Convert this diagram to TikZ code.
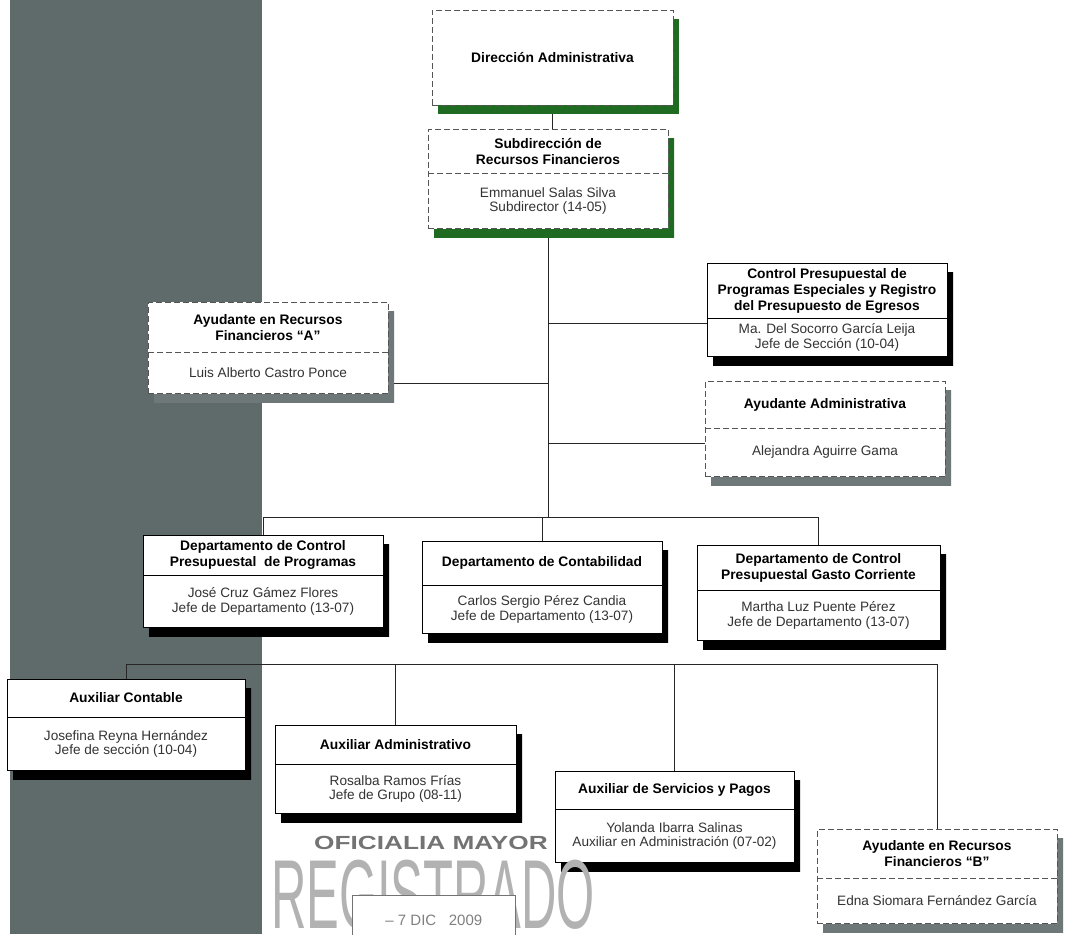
\documentclass[tikz,border=0pt]{standalone}
\usepackage{fontspec}
\setmainfont{Liberation Sans}
\usetikzlibrary{shapes.multipart,shadows}
\definecolor{band}{HTML}{5F6B6B}
\definecolor{grn}{HTML}{1F6B22}
\definecolor{shgray}{HTML}{6E7878}
\definecolor{dashc}{HTML}{555555}
\definecolor{txtc}{HTML}{333333}
\pgfdeclarelayer{bg}
\pgfsetlayers{bg,main}
\newcommand{\tp}[3]{\parbox[c][#2pt][c]{#1pt}{\centering\bfseries\fontsize{13.8}{16}\selectfont #3}}
\newcommand{\bp}[3]{\parbox[c][#2pt][c]{#1pt}{\centering\color{txtc}\fontsize{13.6}{14.5}\selectfont #3}}
\tikzset{
  x=1pt, y=-1pt,
  solidsplit/.style={rectangle split, rectangle split parts=2, draw=black, line width=0.9pt,
    fill=white, inner sep=0pt,
    drop shadow={shadow xshift=6pt, shadow yshift=-9pt, fill=black, opacity=1}},
  dashsplit/.style={rectangle split, rectangle split parts=2, draw=dashc, line width=0.8pt,
    dash pattern=on 6pt off 3pt, fill=white, inner sep=0pt,
    drop shadow={shadow xshift=6pt, shadow yshift=-9pt, fill=#1, opacity=1}},
  dashsplit/.default=shgray,
  conn/.style={draw=black!85, line width=0.9pt},
}
\begin{document}
\begin{tikzpicture}
\useasboundingbox (0,0) rectangle (1065,934);
\begin{pgfonlayer}{bg}
  \fill[white] (0,0) rectangle (1065,934);
  \fill[band] (10,0) rectangle (262,934);
\end{pgfonlayer}

% top boxes
\node[rectangle, draw=dashc, line width=0.8pt, dash pattern=on 6pt off 3pt, fill=white,
  minimum width=241pt, minimum height=95pt, inner sep=0pt,
  drop shadow={shadow xshift=6pt, shadow yshift=-9pt, fill=grn, opacity=1},
  font=\bfseries\fontsize{13.8}{16}\selectfont] (dir) at (552.5,57.5) {Dirección Administrativa};

\node[dashsplit=grn] (sub) at (548,179)
  {\tp{240}{43}{Subdirección de\\Recursos Financieros}\nodepart{two}\bp{240}{55}{Emmanuel Salas Silva\\Subdirector (14-05)}};

\node[dashsplit] (ayA) at (268,348)
  {\tp{240}{49}{Ayudante en Recursos\\Financieros “A”}\nodepart{two}\bp{240}{41}{Luis Alberto Castro Ponce}};

\node[solidsplit] (cpe) at (827,310)
  {\tp{240}{54}{Control Presupuestal de\\Programas Especiales y Registro\\del Presupuesto de Egresos}\nodepart{two}\bp{240}{38}{Ma. Del Socorro García Leija\\Jefe de Sección (10-04)}};

\node[dashsplit] (adm) at (825,429)
  {\tp{240}{46}{Ayudante Administrativa}\nodepart{two}\bp{240}{48}{Alejandra Aguirre Gama}};

% departments
\node[solidsplit] (dcp) at (263,581.5)
  {\tp{240}{39}{Departamento de Control\\Presupuestal\ \ de Programas}\nodepart{two}\bp{240}{52}{José Cruz Gámez Flores\\Jefe de Departamento (13-07)}};

\node[solidsplit] (dco) at (542,587.5)
  {\tp{240}{43}{Departamento de Contabilidad}\nodepart{two}\bp{240}{48}{Carlos Sergio Pérez Candia\\Jefe de Departamento (13-07)}};

\node[solidsplit] (dgc) at (818.5,593)
  {\tp{243}{44}{Departamento de Control\\Presupuestal Gasto Corriente}\nodepart{two}\bp{243}{50}{Martha Luz Puente Pérez\\Jefe de Departamento (13-07)}};

% lower boxes
\node[solidsplit] (auxc) at (126,725)
  {\tp{238}{37}{Auxiliar Contable}\nodepart{two}\bp{238}{53}{Josefina Reyna Hernández\\Jefe de sección (10-04)}};

\node[solidsplit] (auxa) at (395.5,769.5)
  {\tp{241}{38}{Auxiliar Administrativo}\nodepart{two}\bp{241}{49}{Rosalba Ramos Frías\\Jefe de Grupo (08-11)}};

\node[solidsplit] (auxs) at (674.5,817)
  {\tp{239}{37}{Auxiliar de Servicios y Pagos}\nodepart{two}\bp{239}{53}{Yolanda Ibarra Salinas\\Auxiliar en Administración (07-02)}};

\node[dashsplit] (ayB) at (937,876.5)
  {\tp{240}{48}{Ayudante en Recursos\\Financieros “B”}\nodepart{two}\bp{240}{45}{Edna Siomara Fernández García}};

% stamp
\begin{scope}
  \clip (0,0) rectangle (1065,934);
  \node[text=black!30, inner sep=0pt, anchor=base, text height=70pt, text depth=0pt] (st2) at (433,928)
    {\scalebox{0.5}[1]{\fontsize{98}{98}\selectfont REGISTRADO}};
  \node[text=black!55, inner sep=0pt] (st1) at (431,843)
    {\scalebox{1.38}[1]{\bfseries\fontsize{19}{19}\selectfont OFICIALIA MAYOR}};
  \node[draw=black!55, line width=0.7pt, fill=white, minimum width=163pt, minimum height=50pt,
    inner sep=0pt, anchor=north west, text=black!50] (st3) at (352,895)
    {\raisebox{-6pt}{\fontsize{15}{15}\selectfont -- 7 DIC\ \ \ 2009}};
\end{scope}

% connectors
\begin{pgfonlayer}{bg}
  \draw[conn] (dir.south) -- (dir.south |- sub.north);
  \coordinate (b1L) at (263,517);
  \coordinate (b1R) at (818.5,517);
  \draw[conn] (sub.south) -- (sub.south |- b1L);
  \coordinate (cpeIn) at ([yshift=-13pt]cpe.west);
  \draw[conn] (cpeIn) -- (cpeIn -| sub.south);
  \coordinate (ayAIn) at ([yshift=-35pt]ayA.east);
  \draw[conn] (ayAIn) -- (ayAIn -| sub.south);
  \coordinate (admIn) at ([yshift=-14pt]adm.west);
  \draw[conn] (admIn) -- (admIn -| sub.south);
  \draw[conn] (b1L) -- (b1R);
  \draw[conn] (dcp.north) -- (dcp.north |- b1L);
  \draw[conn] (dco.north) -- (dco.north |- b1L);
  \draw[conn] (dgc.north) -- (dgc.north |- b1L);
  \coordinate (b2L) at (126,664);
  \coordinate (b2R) at (937,664);
  \draw[conn] (b2L) -- (b2R);
  \draw[conn] (auxc.north) -- (auxc.north |- b2L);
  \draw[conn] (auxa.north) -- (auxa.north |- b2L);
  \draw[conn] (auxs.north) -- (auxs.north |- b2L);
  \draw[conn] (ayB.north) -- (ayB.north |- b2L);
\end{pgfonlayer}
\end{tikzpicture}
\end{document}
